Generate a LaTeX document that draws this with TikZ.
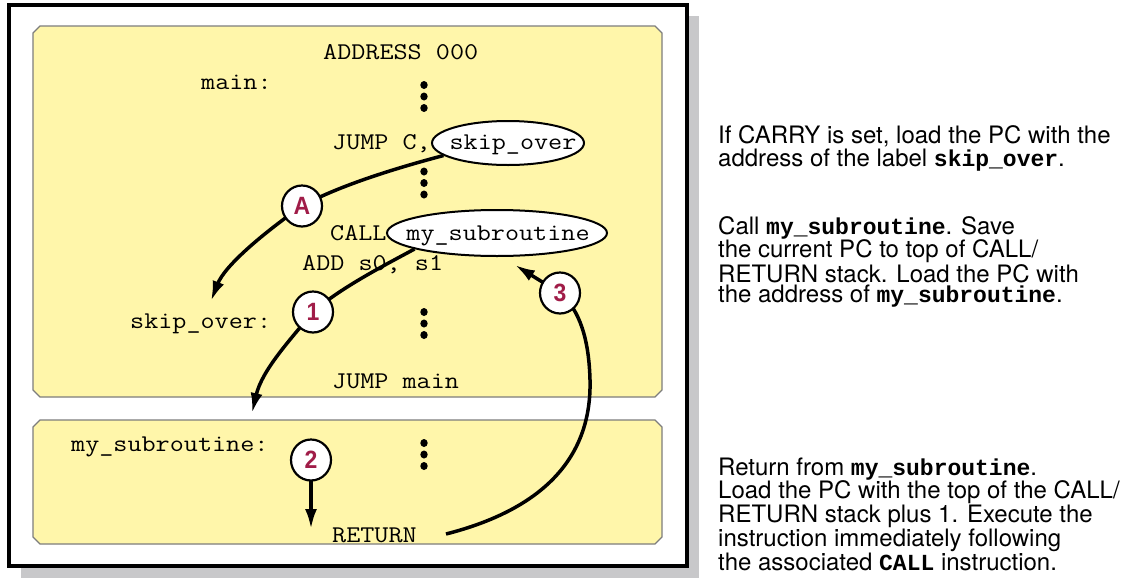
\documentclass[tikz,border=0pt]{standalone}
\usepackage{fontspec}
\usetikzlibrary{arrows.meta,shapes.geometric,calc}
\newfontfamily\herosfam{TeX Gyre Heros}
\newfontfamily\monobfam{Liberation Mono}
\newfontfamily\badgefam{Liberation Sans}[FakeStretch=0.92]
\newcommand\codef{\fontsize{24pt}{28pt}\selectfont\ttfamily}
\newcommand\cw[1]{\scalebox{1.14}[1]{#1}}
\newcommand\descf{\fontsize{24pt}{20.5pt}\selectfont\herosfam}
\newcommand\numf{\fontsize{25pt}{25pt}\selectfont\badgefam\bfseries}
\newcommand\mb[1]{{\fontsize{23pt}{20.5pt}\selectfont\monobfam\bfseries #1}}
\definecolor{panelyellow}{RGB}{255,246,170}
\definecolor{panelgray}{RGB}{125,125,125}
\definecolor{shadowgray}{RGB}{200,200,202}
\definecolor{numred}{RGB}{160,28,72}
\tikzset{
  code/.style={font=\codef, inner sep=0pt, anchor=base west},
  panel/.style={draw=panelgray, fill=panelyellow, line width=1.2pt},
  oval/.style={ellipse, draw=black, fill=white, line width=2pt, inner sep=0pt},
  badge/.style={ellipse, draw=black, fill=white, line width=2.2pt, minimum width=40pt, minimum height=41pt, inner sep=0pt, font=\numf, text=numred},
  flow/.style={line width=3.5pt, -{Latex[length=20pt,width=12pt]}},
  desc/.style={font=\descf, align=left, anchor=base west, inner sep=0pt}
}
\begin{document}
\begin{tikzpicture}[x=1pt,y=-1pt]
\useasboundingbox (0,0) rectangle (1126,581);
% frame with shadow
\fill[shadowgray] (21,16) rectangle (699,578);
\draw[line width=4pt, fill=white] (9,5) rectangle (687,566);
% panels
\draw[panel] (40,26) -- (655,26) -- (662,33) -- (662,390) -- (655,397) -- (40,397) -- (33,390) -- (33,33) -- cycle;
\draw[panel] (40,420) -- (655,420) -- (662,427) -- (662,537) -- (655,544) -- (40,544) -- (33,537) -- (33,427) -- cycle;
% vertical dots
\foreach \y in {85,171.5,312,443}{
  \foreach \k in {0,1,2}{
    \fill (424,\y+11.5*\k) ellipse [x radius=3.7pt, y radius=4pt];
  }
}
% code text
\node[code] (addr) at (323,59) {\cw{ADDRESS 000}};
\node[code] (main) at (201,89.5) {\cw{main:}};
\node[code] (jmpc) at (332,149.5) {\cw{JUMP C,}};
\node[code] (call) at (330,240) {\cw{CALL}};
\node[code] (add) at (302,270) {\cw{ADD s0, s1}};
\node[code] (skiplbl) at (130,328) {\cw{skip\_over:}};
\node[code] (jmain) at (332,388) {\cw{JUMP main}};
\node[code] (sublbl) at (71,451) {\cw{my\_subroutine:}};
\node[code] (ret) at (332,542) {\cw{RETURN}};
% ellipses
\node[oval, minimum width=152pt, minimum height=44pt] (skipov) at (508,143) {};
\node[code, anchor=base] (skiptxt) at (513,149.5) {\cw{skip\_over}};
\node[oval, minimum width=220pt, minimum height=46pt] (callov) at (497,233) {};
\node[code, anchor=base] (calltxt) at (498,240) {\cw{my\_subroutine}};
% badge centres and arrow ends
\coordinate (cA) at (302,206);
\coordinate (c1) at (313,312);
\coordinate (c2) at (311,460);
\coordinate (c3) at (560,293);
\coordinate (tA) at (211,301);
\coordinate (t1) at (252,413);
\coordinate (t2) at (311,529);
\coordinate (t3) at (515,265);
\coordinate (s3) at (446,534);
% arrows
\draw[flow] (skipov.191) .. controls (400,167) and (340,185) .. (cA)
            .. controls (265,232) and (225,265) .. (tA);
\draw[flow] (callov.191) .. controls (385,265) and (340,288) .. (c1)
            .. controls (290,340) and (262,370) .. (t1);
\draw[flow] (c2) -- (t2);
\draw[flow] (s3) .. controls (540,510) and (592,460) .. (590,380)
            .. controls (589,340) and (580,310) .. (c3) -- (t3);
% badges
\node[badge] (bA) at (cA) {A};
\node[badge] (b1) at (c1) {1};
\node[badge] (b2) at (c2) {2};
\node[badge] (b3) at (c3) {3};
% descriptions (base anchor = baseline of the last line)
\node[desc] (d1) at (718,166) {If CARRY is set, load the PC with the\\address of the label \mb{skip\_over}.};
\node[desc] (d2) at (718,302.5) {Call \mb{my\_subroutine}. Save\\the current PC to top of CALL/\\RETURN stack. Load the PC with\\the address of \mb{my\_subroutine}.};
\node[desc] (d3) at (718,570) {Return from \mb{my\_subroutine}.\\Load the PC with the top of the CALL/\\RETURN stack plus 1. Execute the\\instruction immediately following\\the associated \mb{CALL} instruction.};
\end{tikzpicture}
\end{document}
